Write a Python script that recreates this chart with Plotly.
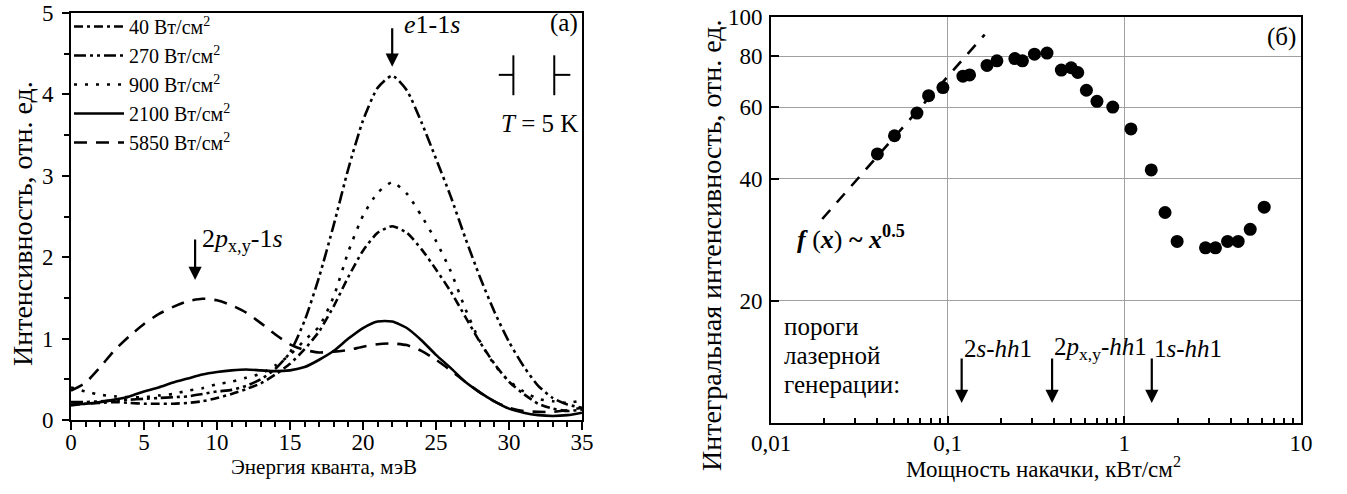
import math
import plotly.graph_objects as go

# ---------------- data: panel (a) ----------------
energy = [0, 1, 2, 3, 4, 5, 6, 7, 8, 9, 10, 11, 12, 13, 14, 15, 16, 17,
          18, 19, 20, 21, 22, 23, 24, 25, 26, 27, 28, 29, 30, 31, 32, 33, 34, 35]
int_40 = [0.18, 0.20, 0.21, 0.22, 0.21, 0.20, 0.20, 0.20, 0.21, 0.23, 0.27, 0.32,
          0.38, 0.45, 0.56, 0.69, 0.87, 1.09, 1.40, 1.76, 2.08, 2.30, 2.38, 2.30,
          2.10, 1.85, 1.58, 1.27, 0.96, 0.69, 0.47, 0.32, 0.20, 0.14, 0.11, 0.13]
int_270 = [0.22, 0.22, 0.23, 0.24, 0.25, 0.26, 0.27, 0.28, 0.29, 0.32, 0.35, 0.37,
           0.42, 0.50, 0.63, 0.83, 1.22, 1.76, 2.40, 3.09, 3.68, 4.08, 4.23, 4.05,
           3.66, 3.21, 2.75, 2.24, 1.76, 1.33, 0.96, 0.66, 0.42, 0.27, 0.19, 0.15]
int_900 = [0.40, 0.35, 0.31, 0.29, 0.28, 0.28, 0.30, 0.32, 0.36, 0.39, 0.44, 0.47,
           0.52, 0.57, 0.67, 0.80, 0.98, 1.15, 1.52, 2.07, 2.51, 2.79, 2.92, 2.78,
           2.51, 2.20, 1.83, 1.37, 0.97, 0.68, 0.48, 0.35, 0.26, 0.23, 0.21, 0.24]
int_2100 = [0.19, 0.20, 0.22, 0.25, 0.29, 0.35, 0.40, 0.46, 0.51, 0.56, 0.59, 0.61,
            0.62, 0.61, 0.60, 0.61, 0.65, 0.74, 0.85, 1.00, 1.13, 1.21, 1.21, 1.13,
            0.98, 0.80, 0.64, 0.47, 0.34, 0.23, 0.14, 0.09, 0.06, 0.05, 0.06, 0.09]
int_5850 = [0.36, 0.46, 0.65, 0.86, 1.03, 1.18, 1.30, 1.39, 1.46, 1.49, 1.47, 1.41,
            1.32, 1.19, 1.05, 0.93, 0.86, 0.83, 0.84, 0.86, 0.90, 0.93, 0.94, 0.92,
            0.85, 0.74, 0.61, 0.47, 0.34, 0.23, 0.15, 0.11, 0.10, 0.10, 0.12, 0.15]
series_names = ["40 Вт/см<sup>2</sup>", "270 Вт/см<sup>2</sup>", "900 Вт/см<sup>2</sup>",
                "2100 Вт/см<sup>2</sup>", "5850 Вт/см<sup>2</sup>"]
peak_marks_E = [22.0, 8.5]
peak_marks_I = [4.34, 1.72]

# ---------------- data: panel (б) ----------------
power_kw = [0.040, 0.050, 0.067, 0.078, 0.094, 0.122, 0.133, 0.167, 0.19, 0.24,
            0.265, 0.31, 0.365, 0.44, 0.50, 0.545, 0.61, 0.70, 0.86, 1.09,
            1.42, 1.70, 1.99, 2.88, 3.28, 3.84, 4.41, 5.16, 6.19]
integral_int = [46, 51, 58, 64, 67, 71.5, 72, 76, 78, 79,
                78, 81, 81.5, 74, 75, 73, 66, 62, 60, 53,
                42, 33, 28, 27, 27, 28, 28, 30, 34]
fit_x = [0.0195, 0.162]
fit_y = [31.8, 90.5]
thresholds_kw = [0.12, 0.39, 1.43]
threshold_labels = ["2<i>s</i>-<i>hh</i>1", "2<i>p</i><sub>x,y</sub>-<i>hh</i>1", "1<i>s</i>-<i>hh</i>1"]
threshold_title = ["пороги", "лазерной", "генерации:"]

# ---------------- layout helpers ----------------
W, H = 1347, 494
FONT = "Times New Roman, Liberation Serif, serif"


def sx(p):
    return p / W


def sy(p):
    return 1 - p / H


fig = go.Figure()

dashes = ["9px,4px,3px,4px", "12px,4px,3px,4px,3px,4px", "3px,8px", "solid", "13px,9px"]
curves = [int_40, int_270, int_900, int_2100, int_5850]
for name, vals, dsh in zip(series_names, curves, dashes):
    fig.add_trace(go.Scatter(
        x=energy, y=vals, mode="lines", name=name,
        line=dict(color="black", width=2.6, dash=dsh, shape="spline", smoothing=0.6),
        xaxis="x", yaxis="y"))

fig.add_trace(go.Scatter(
    x=fit_x, y=fit_y, mode="lines", showlegend=False,
    line=dict(color="black", width=2.6, dash="12px,10px"),
    xaxis="x2", yaxis="y2"))
fig.add_trace(go.Scatter(
    x=power_kw, y=integral_int, mode="markers", showlegend=False,
    marker=dict(color="black", size=13),
    xaxis="x2", yaxis="y2"))


def f(size):
    return dict(family=FONT, size=size, color="black")


tickfont = f(23)

fig.update_layout(
    width=W, height=H,
    margin=dict(l=0, r=0, t=0, b=0),
    paper_bgcolor="white", plot_bgcolor="white",
    font=f(22),
    showlegend=True,
    legend=dict(x=sx(69), y=sy(7), xanchor="left", yanchor="top",
                font=f(20), bgcolor="rgba(0,0,0,0)", tracegroupgap=0, itemwidth=50),
    xaxis=dict(domain=[sx(71), sx(582)], range=[0, 35], dtick=5, tick0=0,
               showline=True, linewidth=2, linecolor="black", mirror=True,
               ticks="outside", ticklen=8, tickwidth=2, tickcolor="black",
               minor=dict(dtick=1, ticks="outside", ticklen=5, tickwidth=1.5, tickcolor="black"),
               showgrid=False, zeroline=False, tickfont=tickfont, ticklabelstandoff=-8,
               ticklabeloverflow="allow", automargin=False, anchor="y"),
    yaxis=dict(domain=[sy(420), sy(13)], range=[0, 5], dtick=1, tick0=0,
               showline=True, linewidth=2, linecolor="black", mirror=True,
               ticks="outside", ticklen=7, tickwidth=2, tickcolor="black",
               minor=dict(dtick=0.5, ticks="outside", ticklen=5, tickwidth=1.5, tickcolor="black"),
               showgrid=False, zeroline=False, tickfont=tickfont, ticklabelstandoff=4,
               ticklabeloverflow="allow", automargin=False, anchor="x"),
    xaxis2=dict(domain=[sx(771), sx(1301)], type="log", range=[-2, 1],
                tickvals=[0.01, 0.1, 1, 10], ticktext=["0,01", "0,1", "1", "10"],
                showline=True, linewidth=2, linecolor="black", mirror=True,
                ticks="inside", ticklen=7, tickwidth=1.5, tickcolor="black",
                minor=dict(dtick="D1", ticks="inside", ticklen=5, tickwidth=1.5,
                           tickcolor="black", showgrid=False),
                showgrid=True, gridcolor="#a0a0a0", gridwidth=1.2, zeroline=False,
                tickfont=tickfont, ticklabelstandoff=-2, ticklabeloverflow="allow",
                automargin=False, anchor="y2"),
    yaxis2=dict(domain=[sy(423), sy(17)], type="log", range=[1, 2],
                tickvals=[20, 40, 60, 80, 100], ticktext=["20", "40", "60", "80", "100"],
                showline=True, linewidth=2, linecolor="black", mirror=True,
                ticks="inside", ticklen=8, tickwidth=1.5, tickcolor="black",
                showgrid=True, gridcolor="#a0a0a0", gridwidth=1.2, zeroline=False,
                tickfont=tickfont, ticklabelstandoff=2, ticklabeloverflow="allow",
                automargin=False, anchor="x2"),
)

ann = []
# axis titles
ann.append(dict(x=sx(324), y=sy(467), xref="paper", yref="paper", xanchor="center", yanchor="middle",
                text="Энергия кванта, мэВ", showarrow=False, font=f(21)))
ann.append(dict(x=sx(22), y=sy(224), xref="paper", yref="paper", xanchor="center", yanchor="middle",
                text="Интенсивность, отн. ед.", textangle=-90, showarrow=False, font=f(28)))
ann.append(dict(x=sx(1043), y=sy(467), xref="paper", yref="paper", xanchor="center", yanchor="middle",
                text="Мощность накачки, кВт/см<sup>2</sup>", showarrow=False, font=f(23)))
ann.append(dict(x=sx(711), y=sy(245), xref="paper", yref="paper", xanchor="center", yanchor="middle",
                text="Интегральная интенсивность, отн. ед.", textangle=-90, showarrow=False,
                font=f(28)))

# arrows in panel (a)
for e, i, L in zip(peak_marks_E, peak_marks_I, [40, 42]):
    ann.append(dict(x=e, y=i, xref="x", yref="y", ax=0, ay=-L, text="", showarrow=True,
                    arrowhead=2, arrowsize=1.2, arrowwidth=2.2, arrowcolor="black"))
ann.append(dict(x=22.7, y=4.86, xref="x", yref="y", xanchor="left", yanchor="middle",
                text="<i>e</i>1-1<i>s</i>", showarrow=False, font=f(26)))
ann.append(dict(x=8.85, y=2.21, xref="x", yref="y", xanchor="left", yanchor="middle",
                text="2<i>p</i><sub>x,y</sub>-1<i>s</i>", showarrow=False, font=f(26)))
ann.append(dict(x=34.85, y=4.88, xref="x", yref="y", xanchor="right", yanchor="middle",
                text="(а)", showarrow=False, font=f(25)))
ann.append(dict(x=34.85, y=3.64, xref="x", yref="y", xanchor="right", yanchor="middle",
                text="<i>T</i> = 5 K", showarrow=False, font=f(25)))

# arrows in panel (б) (log axes -> log10 coordinates)
for t, lab in zip(thresholds_kw, threshold_labels):
    ann.append(dict(x=math.log10(t), y=math.log10(11.2), xref="x2", yref="y2", ax=0, ay=-46,
                    text="", showarrow=True, arrowhead=2, arrowsize=1.2, arrowwidth=2.2,
                    arrowcolor="black"))
    ann.append(dict(x=math.log10(t), y=math.log10(15.3), xref="x2", yref="y2", xanchor="left",
                    yanchor="middle", text=lab, showarrow=False, font=f(25)))
ann.append(dict(x=math.log10(0.0136), y=math.log10(28.6), xref="x2", yref="y2",
                xanchor="left", yanchor="middle",
                text="<b><i>f</i></b> (<b><i>x</i></b>) <b>~</b> <b><i>x</i></b><sup><b>0.5</b></sup>",
                showarrow=False, font=f(26)))
for line_txt, py in zip(threshold_title, [326, 355, 384]):
    ann.append(dict(x=sx(782), y=sy(py), xref="paper", yref="paper",
                    xanchor="left", yanchor="middle", text=line_txt, showarrow=False,
                    font=f(25)))
ann.append(dict(x=math.log10(9.6), y=math.log10(89.3), xref="x2", yref="y2",
                xanchor="right", yanchor="middle",
                text="(б)", showarrow=False, font=f(25)))
fig.update_layout(annotations=ann)

# cavity (mirror) symbol in panel (a)
shapes = [
    dict(type="line", xref="x", yref="y", x0=29.3, x1=30.3, y0=4.24, y1=4.24),
    dict(type="line", xref="x", yref="y", x0=30.3, x1=30.3, y0=3.99, y1=4.48),
    dict(type="line", xref="x", yref="y", x0=33.1, x1=33.1, y0=3.99, y1=4.48),
    dict(type="line", xref="x", yref="y", x0=33.1, x1=34.2, y0=4.24, y1=4.24),
]
for s in shapes:
    s["line"] = dict(color="black", width=2)
fig.update_layout(shapes=shapes)

fig.write_html("out.html", config={"displayModeBar": False},
               post_script="document.body.style.margin='0';")
